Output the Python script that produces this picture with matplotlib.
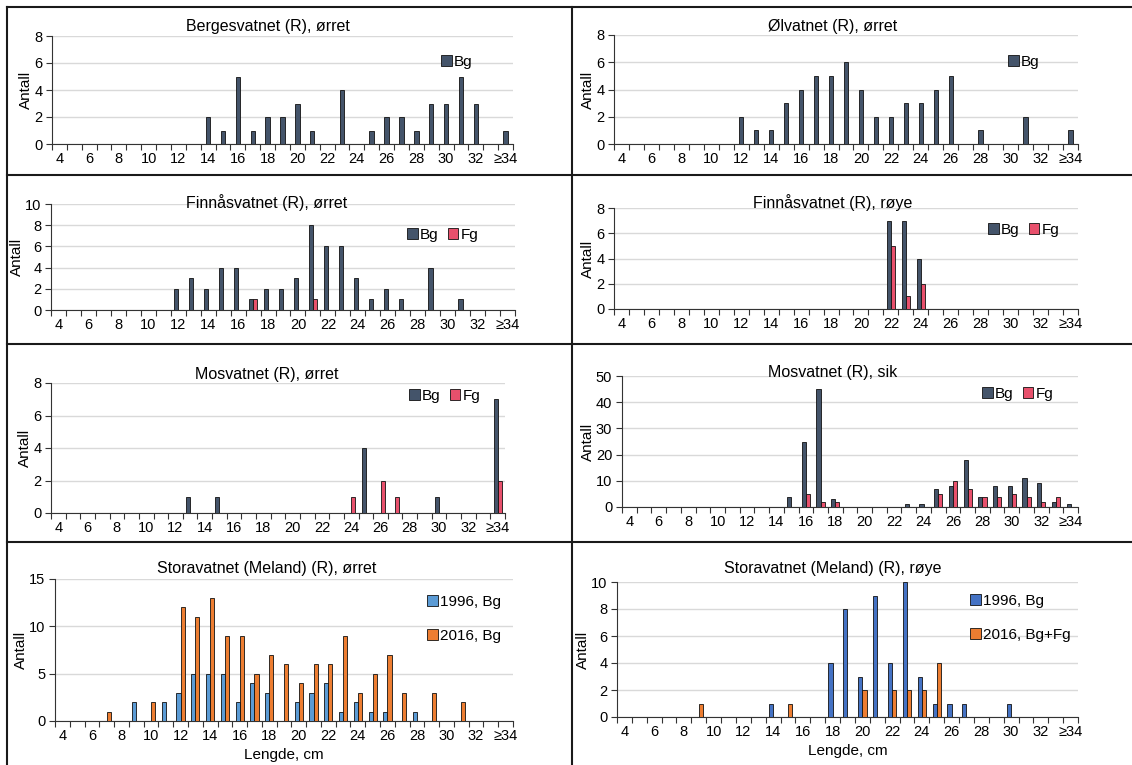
import numpy as np
import matplotlib
matplotlib.use("Agg")
import matplotlib.pyplot as plt
from matplotlib.lines import Line2D

plt.rcParams['font.family'] = ['Liberation Sans', 'DejaVu Sans']

# length classes (cm): 4..33 and >=34
lengths = [str(v) for v in range(4, 34)] + ['≥34']
tick_labels = [lab if (i % 2 == 0 or lab == '≥34') else '' for i, lab in enumerate(lengths)]

#            4-13                          14-23                          24-33                       >=34
berg_bg = [0, 0, 0, 0, 0, 0, 0, 0, 0, 0] + [2, 1, 5, 1, 2, 2, 3, 1, 0, 4] + [0, 1, 2, 2, 1, 3, 3, 5, 3, 0] + [1]
olv_bg = [0, 0, 0, 0, 0, 0, 0, 0, 2, 1] + [1, 3, 4, 5, 5, 6, 4, 2, 2, 3] + [3, 4, 5, 0, 1, 0, 0, 2, 0, 0] + [1]
finn_orr_bg = [0, 0, 0, 0, 0, 0, 0, 0, 2, 3] + [2, 4, 4, 1, 2, 2, 3, 8, 6, 6] + [3, 1, 2, 1, 0, 4, 0, 1, 0, 0] + [0]
finn_orr_fg = [0, 0, 0, 0, 0, 0, 0, 0, 0, 0] + [0, 0, 0, 1, 0, 0, 0, 1, 0, 0] + [0, 0, 0, 0, 0, 0, 0, 0, 0, 0] + [0]
finn_roy_bg = [0, 0, 0, 0, 0, 0, 0, 0, 0, 0] + [0, 0, 0, 0, 0, 0, 0, 0, 7, 7] + [4, 0, 0, 0, 0, 0, 0, 0, 0, 0] + [0]
finn_roy_fg = [0, 0, 0, 0, 0, 0, 0, 0, 0, 0] + [0, 0, 0, 0, 0, 0, 0, 0, 5, 1] + [2, 0, 0, 0, 0, 0, 0, 0, 0, 0] + [0]
mos_orr_bg = [0, 0, 0, 0, 0, 0, 0, 0, 0, 1] + [0, 1, 0, 0, 0, 0, 0, 0, 0, 0] + [0, 4, 0, 0, 0, 0, 1, 0, 0, 0] + [7]
mos_orr_fg = [0, 0, 0, 0, 0, 0, 0, 0, 0, 0] + [0, 0, 0, 0, 0, 0, 0, 0, 0, 0] + [1, 0, 2, 1, 0, 0, 0, 0, 0, 0] + [2]
mos_sik_bg = [0, 0, 0, 0, 0, 0, 0, 0, 0, 0] + [0, 4, 25, 45, 3, 0, 0, 0, 0, 1] + [1, 7, 8, 18, 4, 8, 8, 11, 9, 2] + [1]
mos_sik_fg = [0, 0, 0, 0, 0, 0, 0, 0, 0, 0] + [0, 0, 5, 2, 2, 0, 0, 0, 0, 0] + [0, 5, 10, 7, 4, 4, 5, 4, 2, 4] + [0]
stora_orr_1996 = [0, 0, 0, 0, 0, 2, 0, 2, 3, 5] + [5, 5, 2, 4, 3, 0, 2, 3, 4, 1] + [2, 1, 1, 0, 1, 0, 0, 0, 0, 0] + [0]
stora_orr_2016 = [0, 0, 0, 1, 0, 0, 2, 0, 12, 11] + [13, 9, 9, 5, 7, 6, 4, 6, 6, 9] + [3, 5, 7, 3, 0, 3, 0, 2, 0, 0] + [0]
stora_roy_1996 = [0, 0, 0, 0, 0, 0, 0, 0, 0, 0] + [1, 0, 0, 0, 4, 8, 3, 9, 4, 10] + [3, 1, 1, 1, 0, 0, 1, 0, 0, 0] + [0]
stora_roy_2016 = [0, 0, 0, 0, 0, 1, 0, 0, 0, 0] + [0, 1, 0, 0, 0, 0, 2, 0, 2, 2] + [2, 4, 0, 0, 0, 0, 0, 0, 0, 0] + [0]

C_BG = '#44546a'
C_FG = '#e8506c'
C_96A = '#5b9bd5'
C_96B = '#4472c4'
C_16 = '#ed7d31'

W, H = 1132, 765
fig = plt.figure(figsize=(W / 100, H / 100), dpi=100)


def px_axes(x0, y0, x1, y1):
    return fig.add_axes([x0 / W, 1 - y1 / H, (x1 - x0) / W, (y1 - y0) / H])


def panel(box, title, title_xy, series, ymax, ystep, leg_xy, leg_cols=1, xlabel=False, labelspacing=0.5):
    ax = px_axes(*box)
    x = np.arange(len(lengths))
    n = len(series)
    bw = 0.3 if n == 1 else 0.28
    offs = [0.0] if n == 1 else [-0.14, 0.14]
    for (vals, col, lab), off in zip(series, offs):
        ax.bar(x + off, vals, width=bw, color=col, edgecolor='#111111', linewidth=0.6, label=lab, zorder=3)
    ax.set_xlim(-0.5, len(lengths) - 0.5)
    ax.set_ylim(0, ymax)
    ax.set_yticks(np.arange(0, ymax + 0.1, ystep))
    ax.yaxis.grid(True, color='#d9d9d9', linewidth=1.0, zorder=0)
    ax.set_axisbelow(True)
    ax.set_xticks(x)
    ax.set_xticklabels(tick_labels)
    ax.set_xticks(np.arange(-0.5, len(lengths)), minor=True)
    ax.tick_params(axis='x', which='major', length=0, pad=6, labelsize=10.5)
    ax.tick_params(axis='x', which='minor', length=4, width=0.8, color='#333333')
    ax.tick_params(axis='y', length=4, width=0.8, color='#333333', labelsize=10.5, pad=3)
    for s in ['top', 'right']:
        ax.spines[s].set_visible(False)
    for s in ['left', 'bottom']:
        ax.spines[s].set_color('#333333')
        ax.spines[s].set_linewidth(0.8)
    ax.set_ylabel('Antall', fontsize=11, labelpad=1)
    if xlabel:
        ax.set_xlabel('Lengde, cm', fontsize=11, labelpad=3)
    fig.text(title_xy[0] / W, 1 - title_xy[1] / H, title, ha='center', va='center', fontsize=11.5)
    x0, y0, x1, y1 = box
    lx = (leg_xy[0] - x0) / (x1 - x0)
    ly = 1 - (leg_xy[1] - y0) / (y1 - y0)
    ax.legend(loc='upper left', bbox_to_anchor=(lx, ly), ncol=leg_cols, frameon=False,
              fontsize=11, handlelength=0.7, handleheight=0.7, handletextpad=0.15,
              columnspacing=0.6, borderpad=0, borderaxespad=0, labelspacing=labelspacing)
    return ax


panel((52, 36, 513, 144), 'Bergesvatnet (R), ørret', (268, 27),
      [(berg_bg, C_BG, 'Bg')], 8, 2, (441, 55))
panel((614, 35, 1078, 144), 'Ølvatnet (R), ørret', (833, 27),
      [(olv_bg, C_BG, 'Bg')], 8, 2, (1008, 55))
panel((51, 204, 515, 310), 'Finnåsvatnet (R), ørret', (267, 203),
      [(finn_orr_bg, C_BG, 'Bg'), (finn_orr_fg, C_FG, 'Fg')], 10, 2, (407, 228), leg_cols=2)
panel((614, 208, 1078, 309), 'Finnåsvatnet (R), røye', (833, 203),
      [(finn_roy_bg, C_BG, 'Bg'), (finn_roy_fg, C_FG, 'Fg')], 8, 2, (988, 223), leg_cols=2)
panel((51, 383, 505, 513), 'Mosvatnet (R), ørret', (267, 374),
      [(mos_orr_bg, C_BG, 'Bg'), (mos_orr_fg, C_FG, 'Fg')], 8, 2, (409, 389), leg_cols=2)
panel((622, 376, 1078, 507), 'Mosvatnet (R), sik', (833, 372),
      [(mos_sik_bg, C_BG, 'Bg'), (mos_sik_fg, C_FG, 'Fg')], 50, 10, (982, 387), leg_cols=2)
panel((55, 579, 513, 721), 'Storavatnet (Meland) (R), ørret', (267, 569),
      [(stora_orr_1996, C_96A, '1996, Bg'), (stora_orr_2016, C_16, '2016, Bg')], 15, 5, (427, 595),
      xlabel=True, labelspacing=1.3)
panel((617, 582, 1078, 717), 'Storavatnet (Meland) (R), røye', (833, 569),
      [(stora_roy_1996, C_96B, '1996, Bg'), (stora_roy_2016, C_16, '2016, Bg+Fg')], 10, 2, (970, 594),
      xlabel=True, labelspacing=1.3)

# table-like cell borders
def hline(y, x0=7, x1=W):
    fig.add_artist(Line2D([x0 / W, x1 / W], [1 - y / H, 1 - y / H], color='#1a1a1a', linewidth=1.5))


def vline(x, y0=7, y1=H):
    fig.add_artist(Line2D([x / W, x / W], [1 - y0 / H, 1 - y1 / H], color='#1a1a1a', linewidth=1.5))


for yy in [7, 175, 344, 542]:
    hline(yy)
vline(7)
vline(572)

fig.savefig('out.png', dpi=100)
